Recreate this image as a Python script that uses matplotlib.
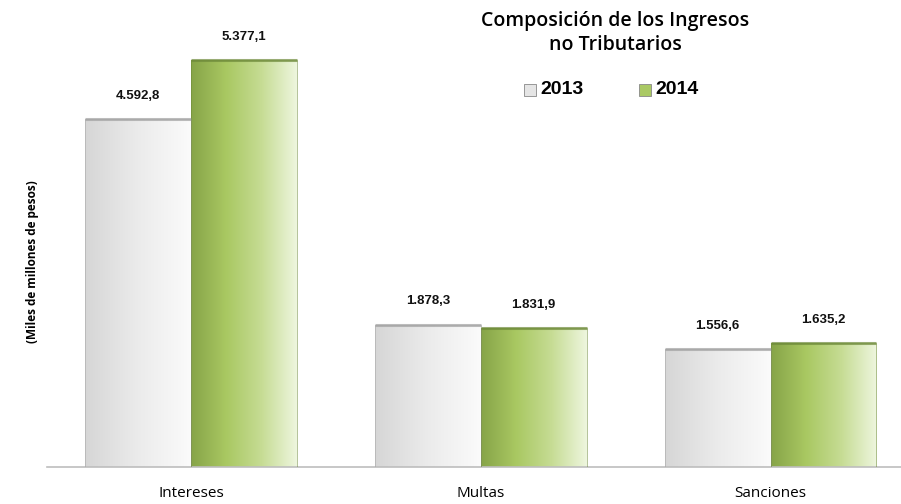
import numpy as np
import matplotlib
matplotlib.use("Agg")
import matplotlib.pyplot as plt
from matplotlib.colors import LinearSegmentedColormap

categories = ["Intereses", "Multas", "Sanciones"]
years = ["2013", "2014"]
vals_2013 = [4592.8, 1878.3, 1556.6]
vals_2014 = [5377.1, 1831.9, 1635.2]
labels_2013 = ["4.592,8", "1.878,3", "1.556,6"]
labels_2014 = ["5.377,1", "1.831,9", "1.635,2"]

grey_cm = LinearSegmentedColormap.from_list("g", ["#d6d6d6", "#ebebeb", "#fbfbfb"])
green_cm = LinearSegmentedColormap.from_list("gr", ["#86a448", "#a9c862", "#c6dc94", "#eef6de"])

plt.rcParams['font.family'] = ['Liberation Sans', 'DejaVu Sans']

fig = plt.figure(figsize=(9.01, 5.04), dpi=100)
ax = fig.add_axes([47 / 901, 37 / 504, 1 - 47 / 901, 467 / 504])
ax.set_xlim(-0.497, 2.45)
ax.set_ylim(0, 6170)
for s in ["top", "right", "left"]:
    ax.spines[s].set_visible(False)
ax.spines["bottom"].set_color("#bdbdbd")
ax.spines["bottom"].set_linewidth(1.2)
ax.set_yticks([])
ax.set_xticks(range(len(categories)))
ax.set_xticklabels(categories, fontsize=11, family=['Open Sans', 'DejaVu Sans'])
ax.tick_params(axis="x", length=0, pad=14)

w = 0.365
grad = np.linspace(0, 1, 256).reshape(1, -1)
x = np.arange(len(categories))
for vals, labs, off, cm, edge in [(vals_2013, labels_2013, -w / 2, grey_cm, "#a0a0a0"),
                                  (vals_2014, labels_2014, w / 2, green_cm, "#6e8a3a")]:
    bars = ax.bar(x + off, vals, width=w, color="none", edgecolor="none", zorder=2)
    for b, v, lab in zip(bars, vals, labs):
        x0, x1 = b.get_x(), b.get_x() + b.get_width()
        im = ax.imshow(grad, cmap=cm, extent=[x0, x1, 0, v], aspect="auto", zorder=1)
        im.set_clip_path(b)
        ax.plot([x0, x1], [v, v], color=edge, lw=2.2, alpha=0.7, zorder=3,
                solid_capstyle="butt")
        ax.plot([x0, x0, x1, x1], [0, v, v, 0], color=edge, lw=0.6, alpha=0.6, zorder=3)
        ax.text(b.get_x() + w / 2, v + 230, lab, ha="center", va="bottom",
                fontsize=9.5, fontweight="bold", color="#111111")

fig.text(615 / 901, 1 - 33 / 504, "Composición de los Ingresos\nno Tributarios",
         ha="center", va="center", fontsize=14, linespacing=1.3,
         fontweight="semibold", family=['Open Sans', 'DejaVu Sans'])

# legend
for xs, yr, cm in [(524, "2013", grey_cm), (639, "2014", green_cm)]:
    fig.patches.append(plt.Rectangle((xs / 901, 1 - 96 / 504), 12 / 901, 12 / 504,
                                     transform=fig.transFigure, facecolor=cm(0.35),
                                     edgecolor="#888888", lw=0.6))
    fig.text((xs + 16) / 901, 1 - 90 / 504, yr, ha="left", va="center",
             fontsize=14, fontweight="bold")

fig.text(33 / 901, 1 - 262 / 504, "(Miles de millones de pesos)", rotation=90,
         ha="center", va="center", fontsize=8.5, fontweight="bold",
         family=['Open Sans', 'DejaVu Sans'])

fig.savefig("out.png", dpi=100)
